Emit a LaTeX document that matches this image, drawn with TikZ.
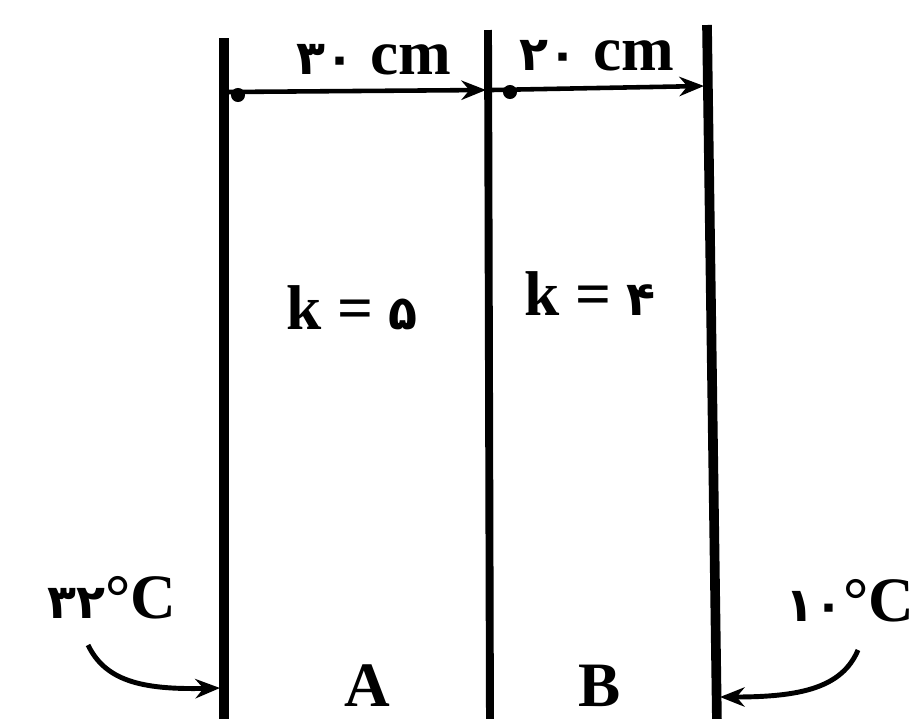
\documentclass[tikz,border=0pt]{standalone}
\usepackage{fontspec}
\setmainfont{Liberation Serif}
\newfontfamily\arabicfont[Script=Arabic]{DejaVu Sans}
\usetikzlibrary{arrows.meta}
\tikzset{
  wall/.style={line width=5.5pt},
  midwall/.style={line width=4.5pt},
  dimarrow/.style={line width=2.6pt,-{Stealth[length=14pt,width=11pt]}},
  heatarrow/.style={line width=2.8pt,-{Stealth[length=14pt,width=11pt]}},
  lbl/.style={font=\bfseries\fontsize{36}{40}\selectfont,inner sep=0pt},
}
\newcommand{\pdig}[1]{{\arabicfont\fontsize{27}{30}\selectfont #1}}
\begin{document}
\begin{tikzpicture}[x=0.02cm,y=-0.02cm]
\useasboundingbox (0,0) rectangle (924,718);
\clip (0,0) rectangle (924,718);
% walls
\coordinate (L1) at (224,38);
\coordinate (L2) at (224,725);
\coordinate (M1) at (488,30);
\coordinate (M2) at (490,725);
\coordinate (R1) at (707,25);
\coordinate (R2) at (717,725);
\draw[wall] (L1) -- (L2);
\draw[midwall] (M1) -- (M2);
\draw[wall] (R1) -- (R2);
% dimension arrows
\coordinate (d1s) at (226,92);
\coordinate (d1e) at (486,90);
\coordinate (d2s) at (492,90);
\coordinate (d2e) at (704,86);
\draw[dimarrow] (d1s) -- (d1e);
\draw[dimarrow] (d2s) -- (d2e);
\fill (238,95) circle (4pt);
\fill (510,92) circle (4pt);
% dimension labels
\node[lbl,anchor=base] (t1) at (374,74) {\pdig{۳۰} cm};
\node[lbl,anchor=base] (t2) at (597,70) {\pdig{۲۰} cm};
% conductivities
\node[lbl,anchor=base] (k1) at (352,329) {k = \pdig{۵}};
\node[lbl,anchor=base] (k2) at (590,315) {k = \pdig{۴}};
% temperatures
\node[lbl,anchor=base] (T1) at (112,618) {\pdig{۳۲}°C};
\node[lbl,anchor=base] (T2) at (850,621) {\pdig{۱۰}°C};
% heat arrows
\coordinate (h1s) at (88,645);
\coordinate (h1e) at (220,688);
\coordinate (h2s) at (858,650);
\coordinate (h2e) at (720,697);
\draw[heatarrow] (h1s) .. controls (105,680) and (140,690) .. (h1e);
\draw[heatarrow] (h2s) .. controls (842,688) and (800,697) .. (h2e);
% layer names
\node[lbl,anchor=base] (A) at (367,706) {A};
\node[lbl,anchor=base] (B) at (600,706) {B};
\end{tikzpicture}
\end{document}
